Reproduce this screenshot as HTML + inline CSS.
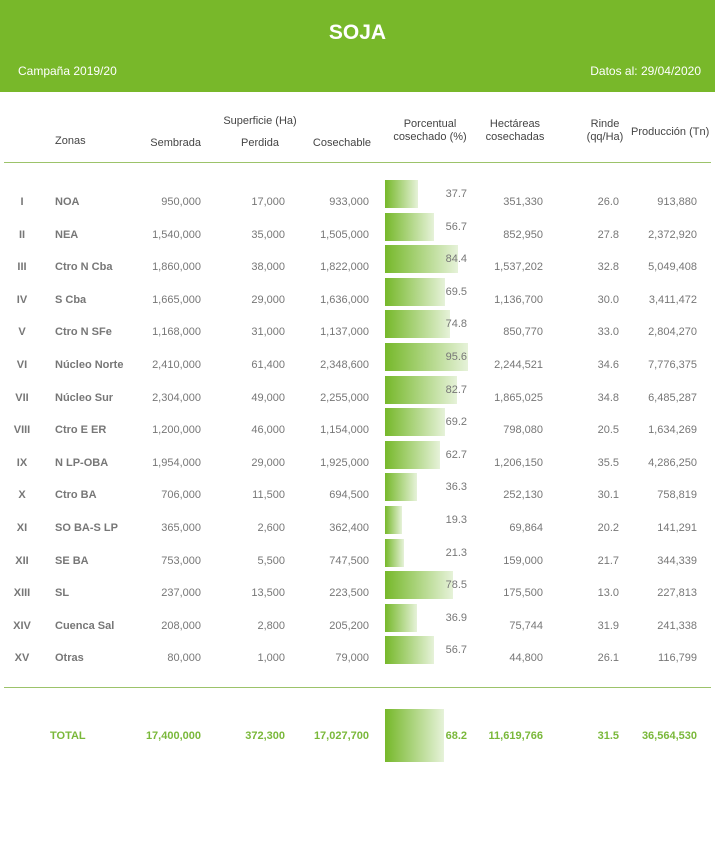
<!DOCTYPE html>
<html><head><meta charset="utf-8"><style>
body{margin:0;width:715px;height:844px;background:#fff;font-family:"Liberation Sans",sans-serif;position:relative;overflow:hidden}
.hdr{position:absolute;left:0;top:0;width:715px;height:92px;background:#78b82a}
.t{position:absolute;white-space:nowrap}
.ct{position:absolute;font-size:11px;color:#444;white-space:nowrap}
.r{text-align:right}
.c{text-align:center}
.cell{position:absolute;font-size:11px;color:#777;white-space:nowrap;transform:translateY(-50%)}
.tot{color:#7ab83a;font-weight:bold}
</style></head><body>
<div class="hdr"></div>
<div class="t" style="left:0;width:715px;text-align:center;top:21px;font-size:21px;font-weight:bold;color:#fff">SOJA</div>
<div class="t" style="left:18px;top:64px;font-size:12px;color:#fff">Campaña 2019/20</div>
<div class="t" style="right:14px;top:64px;font-size:12px;color:#fff">Datos al: 29/04/2020</div>

<div class="ct" style="left:55px;top:135px">Zonas</div>
<div class="ct c" style="left:210px;width:100px;top:115px">Superficie (Ha)</div>
<div class="ct r" style="left:120px;width:81px;top:137px">Sembrada</div>
<div class="ct c" style="left:220px;width:80px;top:137px">Perdida</div>
<div class="ct r" style="left:290px;width:81px;top:137px">Cosechable</div>
<div class="ct c" style="left:380px;width:100px;top:118px;line-height:13px">Porcentual<br>cosechado (%)</div>
<div class="ct c" style="left:470px;width:90px;top:118px;line-height:13px">Hectáreas<br>cosechadas</div>
<div class="ct c" style="left:580px;width:50px;top:118px;line-height:13px">Rinde<br>(qq/Ha)</div>
<div class="ct" style="left:631px;top:126px">Producción (Tn)</div>
<div class="t" style="left:4px;top:162px;width:707px;height:1px;background:#9cc36a"></div>
<div class="t" style="left:4px;top:687px;width:707px;height:1px;background:#9cc36a"></div>
<div id="rows"></div>
<script>
const romans=["I","II","III","IV","V","VI","VII","VIII","IX","X","XI","XII","XIII","XIV","XV"];
const zones=["NOA","NEA","Ctro N Cba","S Cba","Ctro N SFe","Núcleo Norte","Núcleo Sur","Ctro E ER","N LP-OBA","Ctro BA","SO BA-S LP","SE BA","SL","Cuenca Sal","Otras"];
const sembrada=["950,000","1,540,000","1,860,000","1,665,000","1,168,000","2,410,000","2,304,000","1,200,000","1,954,000","706,000","365,000","753,000","237,000","208,000","80,000"];
const perdida=["17,000","35,000","38,000","29,000","31,000","61,400","49,000","46,000","29,000","11,500","2,600","5,500","13,500","2,800","1,000"];
const cosechable=["933,000","1,505,000","1,822,000","1,636,000","1,137,000","2,348,600","2,255,000","1,154,000","1,925,000","694,500","362,400","747,500","223,500","205,200","79,000"];
const pct=[37.7,56.7,84.4,69.5,74.8,95.6,82.7,69.2,62.7,36.3,19.3,21.3,78.5,36.9,56.7];
const hect=["351,330","852,950","1,537,202","1,136,700","850,770","2,244,521","1,865,025","798,080","1,206,150","252,130","69,864","159,000","175,500","75,744","44,800"];
const rinde=["26.0","27.8","32.8","30.0","33.0","34.6","34.8","20.5","35.5","30.1","20.2","21.7","13.0","31.9","26.1"];
const prod=["913,880","2,372,920","5,049,408","3,411,472","2,804,270","7,776,375","6,485,287","1,634,269","4,286,250","758,819","141,291","344,339","227,813","241,338","116,799"];
const totalPct=68.2;
const totals=["17,400,000","372,300","17,027,700","11,619,766","31.5","36,564,530"];
const root=document.getElementById('rows');
const pxPerPct=0.87, barX=385, grad="linear-gradient(to right,#76b82a,#e6f2d9)";
function cell(txt,x,y,w,align,extra){
  const d=document.createElement('div');
  d.className='cell'+(extra||'');
  d.textContent=txt;
  d.style.top=y+'px';
  if(align==='r'){d.style.left=(x-w)+'px';d.style.width=w+'px';d.style.textAlign='right';}
  else if(align==='c'){d.style.left=(x-w/2)+'px';d.style.width=w+'px';d.style.textAlign='center';}
  else d.style.left=x+'px';
  root.appendChild(d);return d;
}
pct.forEach((p,i)=>{
  const y=202+i*32.6;
  let e;
  e=cell(romans[i],22,y,30,'c',' bold');e.style.fontWeight='bold';
  
  
  e=cell(zones[i],55,y,0,'l');e.style.fontWeight='bold';
  
  
  e=cell(sembrada[i],201,y,80,'r');
  
  
  e=cell(perdida[i],285,y,80,'r');
  
  
  e=cell(cosechable[i],369,y,80,'r');
  
  
  const b=document.createElement('div');
  b.style.cssText='position:absolute;left:'+barX+'px;top:'+(y-22)+'px;height:28px;width:'+(p*pxPerPct)+'px;background:'+grad;
  
  
  root.appendChild(b);
  e=cell(p.toFixed(1),467,y-8,40,'r');
  
  
  e=cell(hect[i],543,y,80,'r');
  
  
  e=cell(rinde[i],619,y,40,'r');
  
  
  e=cell(prod[i],697,y,80,'r');
  
  
});
const ty=736;
let e=cell("TOTAL",50,ty,0,'l',' tot');


const tb=document.createElement('div');
tb.style.cssText='position:absolute;left:'+barX+'px;top:709px;height:53px;width:'+(totalPct*pxPerPct)+'px;background:'+grad;


root.appendChild(tb);
const tx=[201,285,369,543,619,697];
totals.forEach((v,i)=>{
  const el=cell(v,tx[i],ty,90,'r',' tot');
  
  
});
e=cell(totalPct.toFixed(1),467,ty,40,'r',' tot');


</script>
</body></html>
